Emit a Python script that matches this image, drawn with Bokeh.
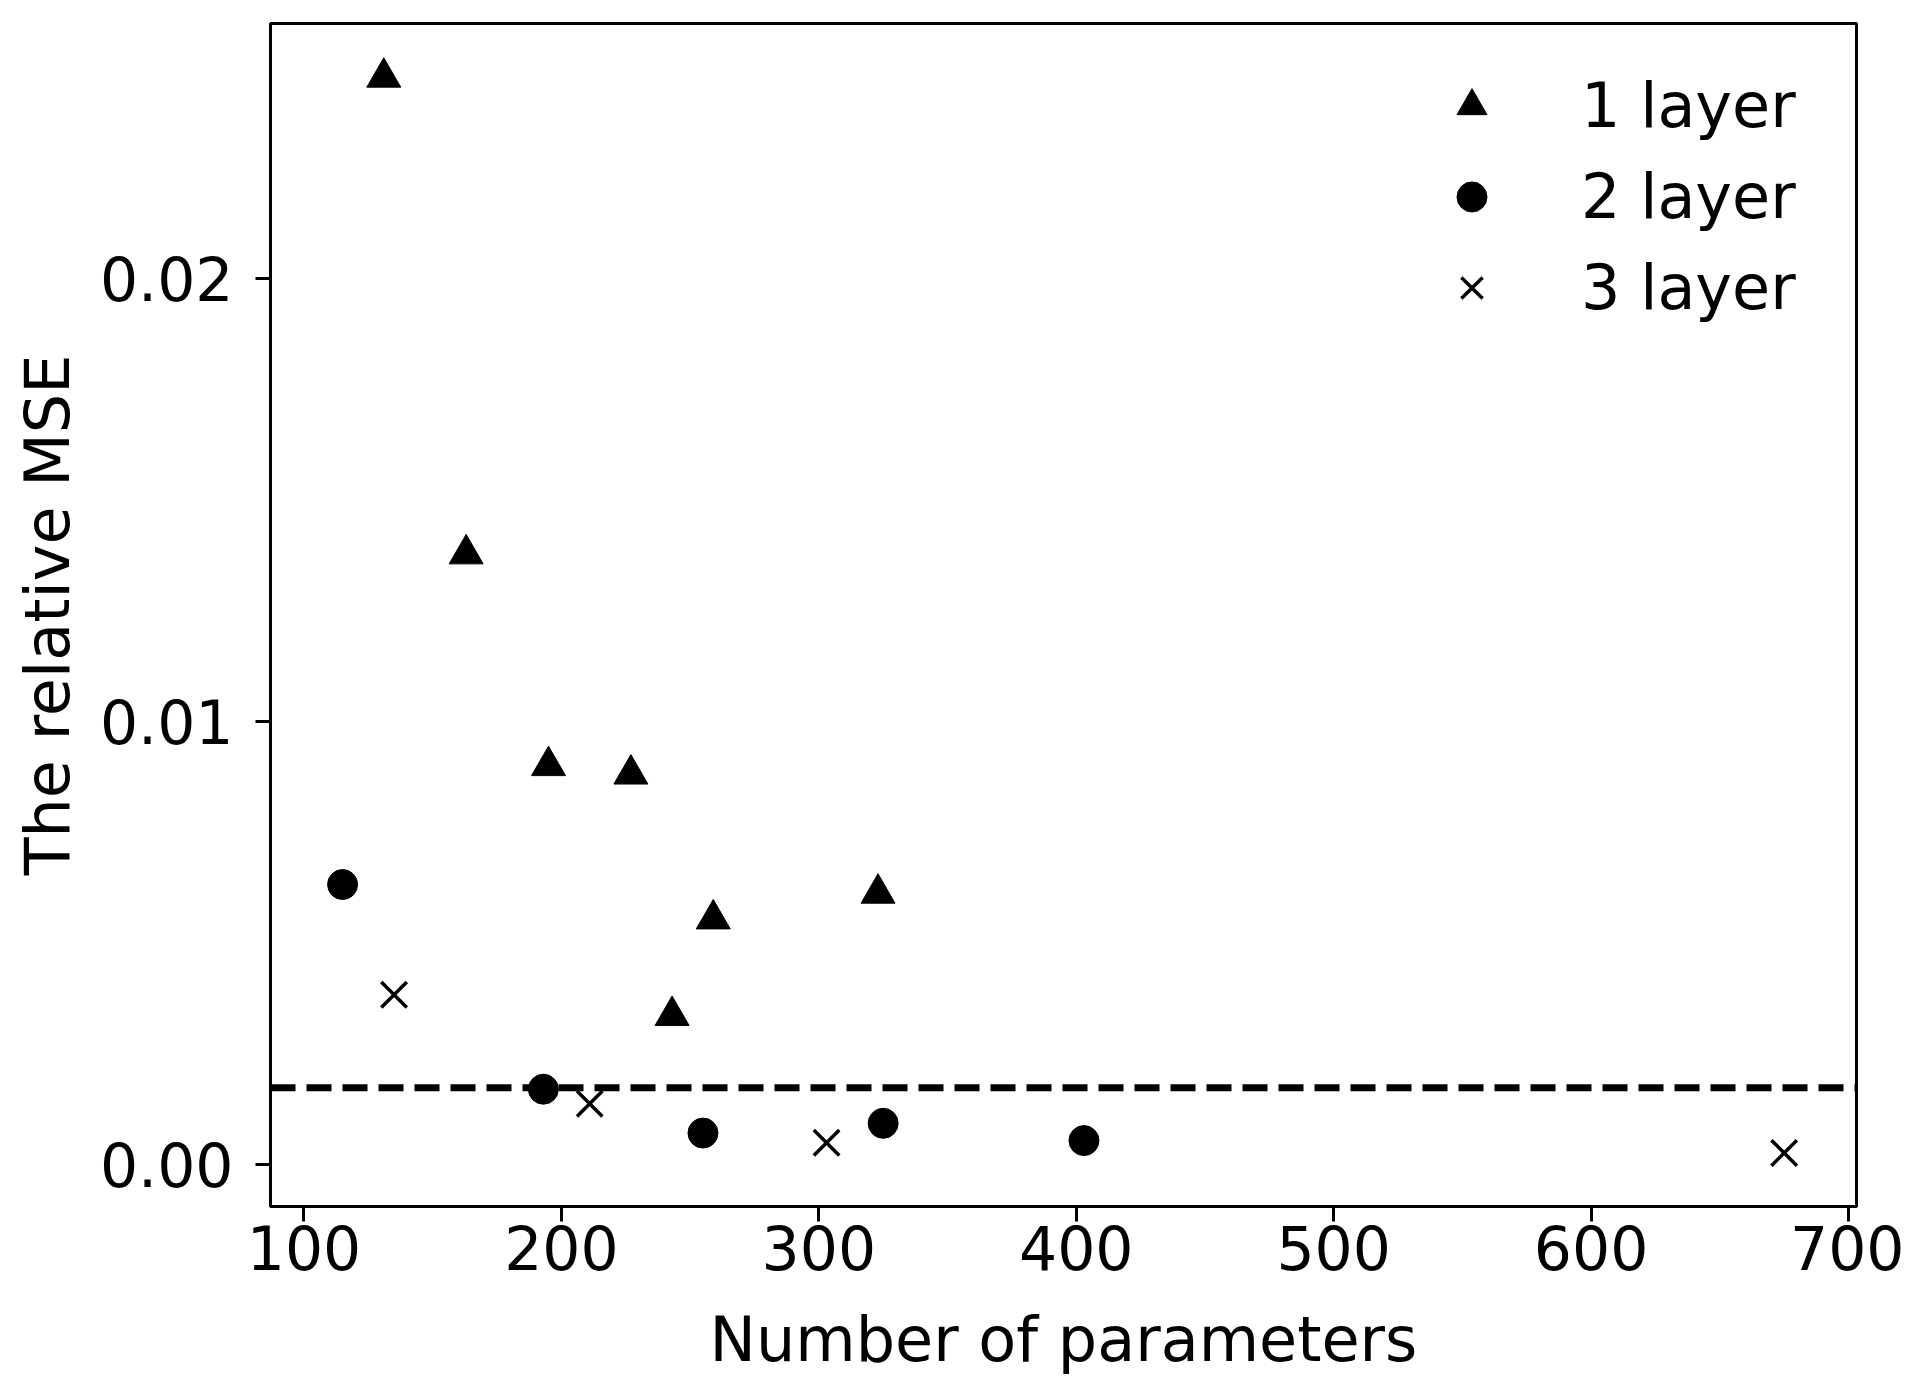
from bokeh.plotting import figure
from bokeh.models import (Range1d, FixedTicker, PrintfTickFormatter, Span,
                          Legend, LegendItem)
from bokeh.embed import file_html
from bokeh.resources import INLINE

# ---- data ----
params_1 = [131, 163, 195, 227, 243, 259, 323]
mse_1 = [0.02454, 0.01378, 0.00900, 0.00881, 0.00336, 0.00554, 0.00612]

params_2 = [115, 193, 255, 325, 403]
mse_2 = [0.00632, 0.00170, 0.00071, 0.00093, 0.00054]

params_3 = [135, 211, 303, 675]
mse_3 = [0.00383, 0.00137, 0.00049, 0.00026]

baseline_mse = 0.00173

x_ticks = [100, 200, 300, 400, 500, 600, 700]
y_ticks = [0.00, 0.01, 0.02]

series_labels = ["1 layer", "2 layer", "3 layer"]
x_label = "Number of parameters"
y_label = "The relative MSE"

FONT = "DejaVu Sans"
TICK_FS = "60px"
LABEL_FS = "62px"

p = figure(width=1904, height=1378, output_backend="svg", toolbar_location=None,
           x_range=Range1d(87.0, 703.1), y_range=Range1d(-0.000948, 0.025756),
           min_border_left=270, min_border_right=48, min_border_top=23,
           min_border_bottom=172)

p.background_fill_color = "white"
p.border_fill_color = "white"
p.outline_line_color = "black"
p.outline_line_width = 3
p.grid.visible = False

# dashed reference line
p.add_layout(Span(location=baseline_mse, dimension="width", line_color="black",
                  line_width=7, line_dash="25 11"))

r1 = p.scatter(params_1, mse_1, marker="triangle", size=34, color="black")
r2 = p.scatter(params_2, mse_2, marker="circle", size=30, color="black")
r3 = p.scatter(params_3, mse_3, marker="x", size=36, line_color="black", line_width=3.5)

legend = Legend(items=[LegendItem(label=series_labels[0], renderers=[r1]),
                       LegendItem(label=series_labels[1], renderers=[r2]),
                       LegendItem(label=series_labels[2], renderers=[r3])],
                location=(1164, 873), orientation="vertical",
                glyph_width=75, glyph_height=91, label_height=91,
                label_standoff=72, spacing=0, padding=0, margin=0,
                border_line_alpha=0, background_fill_alpha=0,
                label_text_font=FONT, label_text_font_size=LABEL_FS,
                label_text_color="black")
p.add_layout(legend)

for ax in (p.xaxis[0], p.yaxis[0]):
    ax.axis_line_color = "black"
    ax.axis_line_width = 3
    ax.major_tick_line_color = "black"
    ax.major_tick_line_width = 3
    ax.major_tick_out = 15
    ax.major_tick_in = 0
    ax.minor_tick_line_color = None
    ax.major_label_text_font = FONT
    ax.major_label_text_font_size = TICK_FS
    ax.major_label_text_color = "black"
    ax.axis_label_text_font = FONT
    ax.axis_label_text_font_size = LABEL_FS
    ax.axis_label_text_font_style = "normal"
    ax.axis_label_text_color = "black"

p.xaxis.ticker = FixedTicker(ticks=x_ticks)
p.yaxis.ticker = FixedTicker(ticks=y_ticks)
p.yaxis.formatter = PrintfTickFormatter(format="%.2f")
p.xaxis.axis_label = x_label
p.yaxis.axis_label = y_label
p.xaxis.major_label_standoff = 3
p.yaxis.major_label_standoff = 22
p.xaxis.axis_label_standoff = 30
p.yaxis.axis_label_standoff = 13

open("out.html", "w").write(file_html(p, INLINE))
